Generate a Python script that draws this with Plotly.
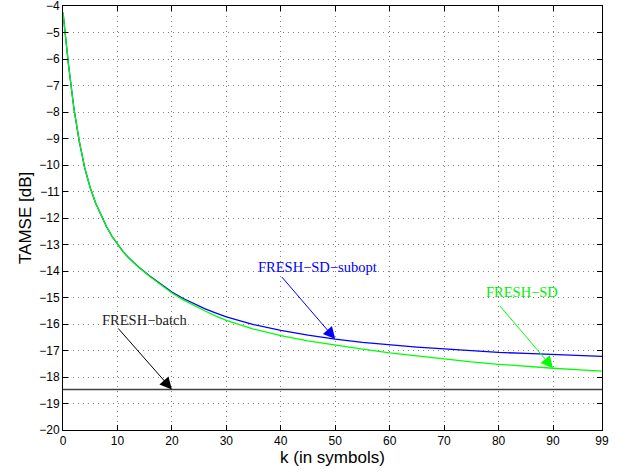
import plotly.graph_objects as go

# ---- data ----
k_vals = [0, 1, 2, 3, 4, 5, 6, 7, 8, 9, 10, 11, 12, 14, 16, 18, 20, 22, 24, 26, 28, 30,
          35, 40, 45, 50, 55, 60, 65, 70, 75, 80, 85, 90, 95, 99]
fresh_sd = [-4.25, -6.2, -7.86, -9.12, -10.12, -10.86, -11.44, -11.92, -12.33, -12.69,
            -13.0, -13.26, -13.49, -13.88, -14.22, -14.54, -14.83, -15.08, -15.3, -15.5,
            -15.69, -15.86, -16.19, -16.44, -16.64, -16.8, -16.95, -17.09, -17.21, -17.32,
            -17.43, -17.52, -17.6, -17.67, -17.73, -17.78]
fresh_sd_subopt = [-4.25, -6.2, -7.86, -9.12, -10.12, -10.86, -11.44, -11.92, -12.33, -12.69,
                   -13.0, -13.26, -13.49, -13.87, -14.2, -14.51, -14.79, -15.03, -15.23, -15.42,
                   -15.58, -15.73, -16.02, -16.24, -16.42, -16.57, -16.69, -16.79, -16.87, -16.94,
                   -17.01, -17.07, -17.11, -17.15, -17.19, -17.22]
batch_k = [0, 99]
fresh_batch = [-18.47, -18.47]

x_ticks = [0, 10, 20, 30, 40, 50, 60, 70, 80, 90, 99]
y_ticks = list(range(-20, -3))
y_tick_text = [("\u2212" + str(-v)) for v in y_ticks]

fig = go.Figure()
fig.add_trace(go.Scatter(x=batch_k, y=fresh_batch, mode="lines",
                         line=dict(color="#404040", width=1.4), name="FRESH-batch"))
fig.add_trace(go.Scatter(x=k_vals, y=fresh_sd_subopt, mode="lines",
                         line=dict(color="#0000ff", width=1.3), name="FRESH-SD-subopt"))
fig.add_trace(go.Scatter(x=k_vals, y=fresh_sd, mode="lines",
                         line=dict(color="#00ff00", width=1.3), name="FRESH-SD"))

serif = "Liberation Serif, Times New Roman, serif"
sans = "Liberation Sans, Arial, Helvetica, sans-serif"

def label(text, x, y, color):
    fig.add_annotation(x=x, y=y, xref="x", yref="y", text=text, showarrow=False,
                       font=dict(family=serif, size=14.5, color=color),
                       xanchor="center", yanchor="middle")

def arrow(x0, y0, x1, y1, color):
    fig.add_annotation(x=x1, y=y1, ax=x0, ay=y0, xref="x", yref="y", axref="x", ayref="y",
                       text="", showarrow=True, arrowhead=2, arrowsize=2.4, arrowwidth=1,
                       arrowcolor=color, standoff=0)

label("FRESH\u2212SD\u2212subopt", 46.8, -13.86, "#0000ff")
arrow(39.96, -14.17, 50, fresh_sd_subopt[k_vals.index(50)], "#0000ff")
label("FRESH\u2212SD", 84.3, -14.79, "#00ee00")
arrow(80.0, -15.26, 90, fresh_sd[k_vals.index(90)], "#00ff00")
label("FRESH\u2212batch", 15.0, -15.83, "#222222")
arrow(9.9, -16.11, 20, fresh_batch[0], "#000000")

# axis titles
fig.add_annotation(x=(25 - 63) / 539, y=0.5, xref="paper", yref="paper", text="TAMSE [dB]",
                   textangle=-90, showarrow=False, xanchor="center", yanchor="middle",
                   font=dict(family=sans, size=17, color="black"))
fig.add_annotation(x=0.5, y=-(457 - 430) / 424, xref="paper", yref="paper", text="k (in symbols)",
                   showarrow=False, xanchor="center", yanchor="middle",
                   font=dict(family=sans, size=17, color="black"))

axis_common = dict(showline=True, linecolor="black", linewidth=1, mirror="ticks",
                   ticks="inside", ticklen=5, tickcolor="black",
                   showgrid=True, gridcolor="#808080", griddash="1px,4px", gridwidth=1,
                   zeroline=False, automargin=False, ticklabeloverflow="allow",
                   tickfont=dict(family=sans, size=12, color="black"))

fig.update_xaxes(range=[0, 99], tickvals=x_ticks, ticktext=[str(v) for v in x_ticks], **axis_common)
fig.update_yaxes(range=[-20, -4], tickvals=y_ticks, ticktext=y_tick_text, **axis_common)

fig.update_layout(width=633, height=472, margin=dict(l=63, r=31, t=6, b=42),
                  paper_bgcolor="white", plot_bgcolor="white", showlegend=False)

fig.write_html("out.html", config={"displayModeBar": False},
               post_script="document.body.style.margin='0px';")
